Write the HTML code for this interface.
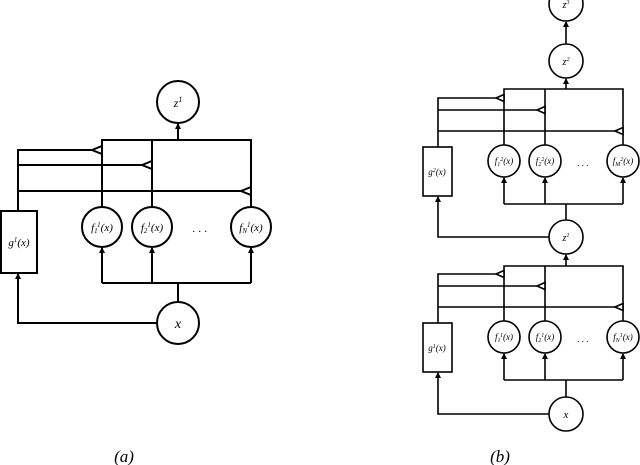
<!DOCTYPE html>
<html><head><meta charset="utf-8"><style>
html,body{margin:0;padding:0;background:#fff;}
svg{display:block;}
text{font-family:"Liberation Serif",serif;font-style:italic;fill:#000;}
</style></head><body>
<svg width="640" height="465" viewBox="0 0 640 465" xmlns="http://www.w3.org/2000/svg">
<defs>
<marker id="ar" markerWidth="6" markerHeight="6" refX="5" refY="3" orient="auto" markerUnits="userSpaceOnUse">
<path d="M0,0 L6,3 L0,6 z" fill="#000"/></marker>
</defs>
<!-- Panel a -->
<g stroke="#000" stroke-width="2" fill="none">
<circle cx="178" cy="102" r="21" fill="#fff"/>
<line x1="178" y1="140" x2="178" y2="124" marker-end="url(#ar)"/>
<polyline points="102,207 102,140 251,140 251,207"/>
<line x1="152" y1="140" x2="152" y2="207"/>
<polyline points="18,211 18,150 102,150"/>
<line x1="18" y1="165" x2="152" y2="165"/>
<line x1="18" y1="191" x2="251" y2="191"/>
<polygon points="92,150 102,146 102,154" fill="#fff"/>
<polygon points="142,165 152,161 152,169" fill="#fff"/>
<polygon points="241,191 251,187 251,195" fill="#fff"/>
<rect x="1" y="211" width="36" height="62" fill="#fff"/>
<circle cx="102" cy="227" r="20" fill="#fff"/>
<circle cx="152" cy="227" r="20" fill="#fff"/>
<circle cx="251" cy="227" r="20" fill="#fff"/>
<polyline points="102,283 251,283"/>
<line x1="102" y1="283" x2="102" y2="248" marker-end="url(#ar)"/>
<line x1="152" y1="283" x2="152" y2="248" marker-end="url(#ar)"/>
<line x1="251" y1="283" x2="251" y2="248" marker-end="url(#ar)"/>
<line x1="178" y1="283" x2="178" y2="302"/>
<circle cx="178" cy="323" r="21" fill="#fff"/>
<polyline points="157,323 18,323 18,274" marker-end="url(#ar)"/>
</g>
<g font-size="12">
<text x="178" y="107" text-anchor="middle">z<tspan font-size="8" dy="-5">1</tspan></text>
<text x="19" y="246" text-anchor="middle" font-size="11">g<tspan font-size="7" dy="-4">1</tspan><tspan dy="4">(x)</tspan></text>
<text x="102" y="231" text-anchor="middle" font-size="11">f<tspan font-size="7" dy="2">1</tspan><tspan font-size="7" dy="-6">1</tspan><tspan dy="4">(x)</tspan></text>
<text x="152" y="231" text-anchor="middle" font-size="11">f<tspan font-size="7" dy="2">2</tspan><tspan font-size="7" dy="-6">1</tspan><tspan dy="4">(x)</tspan></text>
<text x="251" y="231" text-anchor="middle" font-size="11">f<tspan font-size="7" dy="2">N</tspan><tspan font-size="7" dy="-6">1</tspan><tspan dy="4">(x)</tspan></text>
<text x="200" y="232" text-anchor="middle" font-style="normal">. . .</text>
<text x="178" y="328" text-anchor="middle" font-size="14">x</text>
</g>
<text x="124" y="462" text-anchor="middle" font-size="17" font-style="normal">(a)</text>

<!-- Panel b -->
<g stroke="#000" stroke-width="1.6" fill="none">
<circle cx="566" cy="4" r="17" fill="#fff"/>
<line x1="566" y1="44" x2="566" y2="22" marker-end="url(#ar)"/>
<circle cx="566" cy="61" r="17" fill="#fff"/>
<line x1="566" y1="89" x2="566" y2="79" marker-end="url(#ar)"/>
<polyline points="504,145 504,89 623,89 623,145"/>
<line x1="545" y1="89" x2="545" y2="145"/>
<polyline points="438,147 438,98 504,98"/>
<line x1="438" y1="110" x2="545" y2="110"/>
<line x1="438" y1="131" x2="623" y2="131"/>
<polygon points="496,98 504,94.5 504,101.5" fill="#fff"/>
<polygon points="537,110 545,106.5 545,113.5" fill="#fff"/>
<polygon points="615,131 623,127.5 623,134.5" fill="#fff"/>
<rect x="423" y="147" width="29" height="49" fill="#fff"/>
<circle cx="504" cy="161" r="16" fill="#fff"/>
<circle cx="545" cy="161" r="16" fill="#fff"/>
<circle cx="623" cy="161" r="16" fill="#fff"/>
<line x1="504" y1="204" x2="623" y2="204"/>
<line x1="504" y1="204" x2="504" y2="178" marker-end="url(#ar)"/>
<line x1="545" y1="204" x2="545" y2="178" marker-end="url(#ar)"/>
<line x1="623" y1="204" x2="623" y2="178" marker-end="url(#ar)"/>
<line x1="566" y1="204" x2="566" y2="220"/>
<circle cx="566" cy="237" r="17" fill="#fff"/>
<polyline points="549,237 438,237 438,197" marker-end="url(#ar)"/>

<line x1="566" y1="266" x2="566" y2="255" marker-end="url(#ar)"/>
<polyline points="504,321 504,266 623,266 623,321"/>
<line x1="545" y1="266" x2="545" y2="321"/>
<polyline points="438,323 438,274 504,274"/>
<line x1="438" y1="286" x2="545" y2="286"/>
<line x1="438" y1="307" x2="623" y2="307"/>
<polygon points="496,274 504,270.5 504,277.5" fill="#fff"/>
<polygon points="537,286 545,282.5 545,289.5" fill="#fff"/>
<polygon points="615,307 623,303.5 623,310.5" fill="#fff"/>
<rect x="423" y="323" width="29" height="49" fill="#fff"/>
<circle cx="504" cy="337" r="16" fill="#fff"/>
<circle cx="545" cy="337" r="16" fill="#fff"/>
<circle cx="623" cy="337" r="16" fill="#fff"/>
<line x1="504" y1="380" x2="623" y2="380"/>
<line x1="504" y1="380" x2="504" y2="354" marker-end="url(#ar)"/>
<line x1="545" y1="380" x2="545" y2="354" marker-end="url(#ar)"/>
<line x1="623" y1="380" x2="623" y2="354" marker-end="url(#ar)"/>
<line x1="566" y1="380" x2="566" y2="397"/>
<circle cx="566" cy="414" r="17" fill="#fff"/>
<polyline points="549,414 438,414 438,373" marker-end="url(#ar)"/>
</g>
<g font-size="9">
<text x="566" y="8" text-anchor="middle" font-size="10">z<tspan font-size="6" dy="-4">3</tspan></text>
<text x="566" y="65" text-anchor="middle" font-size="10">z<tspan font-size="6" dy="-4">2</tspan></text>
<text x="566" y="241" text-anchor="middle" font-size="10">z<tspan font-size="6" dy="-4">1</tspan></text>
<text x="437" y="175" text-anchor="middle">g<tspan font-size="6" dy="-3">2</tspan><tspan dy="3">(x)</tspan></text>
<text x="504" y="164" text-anchor="middle">f<tspan font-size="6" dy="2">1</tspan><tspan font-size="6" dy="-5">2</tspan><tspan dy="3">(x)</tspan></text>
<text x="545" y="164" text-anchor="middle">f<tspan font-size="6" dy="2">2</tspan><tspan font-size="6" dy="-5">2</tspan><tspan dy="3">(x)</tspan></text>
<text x="623" y="164" text-anchor="middle">f<tspan font-size="6" dy="2">M</tspan><tspan font-size="6" dy="-5">2</tspan><tspan dy="3">(x)</tspan></text>
<text x="583" y="166" text-anchor="middle" font-style="normal">. . .</text>
<text x="437" y="351" text-anchor="middle">g<tspan font-size="6" dy="-3">1</tspan><tspan dy="3">(x)</tspan></text>
<text x="504" y="340" text-anchor="middle">f<tspan font-size="6" dy="2">1</tspan><tspan font-size="6" dy="-5">1</tspan><tspan dy="3">(x)</tspan></text>
<text x="545" y="340" text-anchor="middle">f<tspan font-size="6" dy="2">2</tspan><tspan font-size="6" dy="-5">1</tspan><tspan dy="3">(x)</tspan></text>
<text x="623" y="340" text-anchor="middle">f<tspan font-size="6" dy="2">N</tspan><tspan font-size="6" dy="-5">1</tspan><tspan dy="3">(x)</tspan></text>
<text x="583" y="342" text-anchor="middle" font-style="normal">. . .</text>
<text x="566" y="418" text-anchor="middle" font-size="11">x</text>
</g>
<text x="500" y="462" text-anchor="middle" font-size="17" font-style="normal">(b)</text>
</svg>
</body></html>
